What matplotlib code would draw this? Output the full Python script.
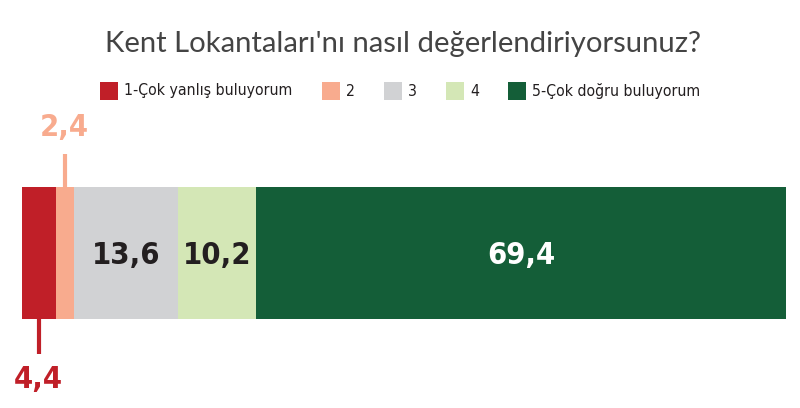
import matplotlib
matplotlib.use("Agg")
import matplotlib.pyplot as plt
from matplotlib.patches import Rectangle
from matplotlib import font_manager as fm
import numpy as np

title = "Kent Lokantaları'nı nasıl değerlendiriyorsunuz?"
categories = ["1-Çok yanlış buluyorum", "2", "3", "4", "5-Çok doğru buluyorum"]
values = [4.4, 2.4, 13.6, 10.2, 69.4]
labels = ["4,4", "2,4", "13,6", "10,2", "69,4"]
colors = ["#C01F28", "#F8AB8E", "#D1D2D4", "#D4E7B6", "#145E38"]
label_colors = ["#C01F28", "#F8AB8E", "#231F20", "#231F20", "#FFFFFF"]

BAD = ["italic", "oblique", "light", "thin", "medium", "semi", "black", "extra"]

def pick(keys, want):
    best = None
    for f in fm.fontManager.ttflist:
        fn = f.fname.lower().rsplit("/", 1)[-1]
        if not any(k in fn for k in keys):
            continue
        if any(b in fn for b in BAD):
            continue
        isb = "bold" in fn
        if want == "bold" and isb:
            return f.fname
        if want == "regular" and not isb:
            best = best or f.fname
    return best

keys = ["sansnarrow", "condensed", "narrow"]
cond_bold = pick(keys, "bold")
cond_reg = pick(keys, "regular")

def fp(path, fallback_weight):
    if path:
        return fm.FontProperties(fname=path)
    return fm.FontProperties(family="DejaVu Sans", weight=fallback_weight)

num_fp = fp(cond_bold, "bold")
leg_fp = fp(cond_reg, "normal")

W, H = 800, 408
fig = plt.figure(figsize=(8, 4.08), dpi=100)
fig.patch.set_facecolor("white")
renderer = fig.canvas.get_renderer()

def fit(props, s, tw, th):
    t = fig.text(0, 0, s, fontproperties=props, fontsize=10)
    bb = t.get_window_extent(renderer)
    t.remove()
    return min(10 * tw / bb.width, 10 * th / bb.height)

left_px, right_px = 22, 786
ax = fig.add_axes([left_px / W, 0, (right_px - left_px) / W, 1])
ax.set_xlim(0, sum(values))
ax.set_ylim(H, 0)
ax.axis("off")

bar_top, bar_bot = 187, 319
yc = (bar_top + bar_bot) / 2
lefts = np.concatenate([[0], np.cumsum(values)[:-1]])
ax.barh(yc, values, left=lefts, height=bar_bot - bar_top, color=colors,
        edgecolor="none")

mids = lefts + np.array(values) / 2
nsize = fit(num_fp, "13,6", 68, 64)
for i in [2, 3, 4]:
    ax.text(mids[i], yc + 2, labels[i], ha="center", va="center",
            fontproperties=num_fp, fontsize=nsize, color=label_colors[i])

ax.plot([mids[0], mids[0]], [bar_bot, 354], color=colors[0], lw=3,
        solid_capstyle="butt", clip_on=False)
ax.text(mids[0], 380, labels[0], ha="center", va="center",
        fontproperties=num_fp, fontsize=nsize, color=label_colors[0])
ax.plot([mids[1], mids[1]], [bar_top, 154], color=colors[1], lw=3,
        solid_capstyle="butt", clip_on=False)
ax.text(mids[1], 128, labels[1], ha="center", va="center",
        fontproperties=num_fp, fontsize=nsize, color=label_colors[1])

title_fp = fm.FontProperties(family=["Lato", "DejaVu Sans"], weight="normal")
tsize = fit(title_fp, title, 596, 40)
fig.text(403 / W, 1 - 44 / H, title, ha="center", va="center",
         fontproperties=title_fp, fontsize=tsize, color="#444444")

sq_x = [100, 322, 384, 446, 508]
sq = 18
ly = 91
lsize = fit(leg_fp, categories[0], 168, 30)
for x, c, lab in zip(sq_x, colors, categories):
    fig.patches.append(Rectangle((x / W, 1 - (ly + sq / 2) / H), sq / W, sq / H,
                                 transform=fig.transFigure, facecolor=c,
                                 edgecolor="none"))
    fig.text((x + sq + 6) / W, 1 - ly / H, lab, ha="left", va="center",
             fontproperties=leg_fp, fontsize=lsize, color="#231F20")

fig.savefig("out.png", dpi=100, facecolor="white")
